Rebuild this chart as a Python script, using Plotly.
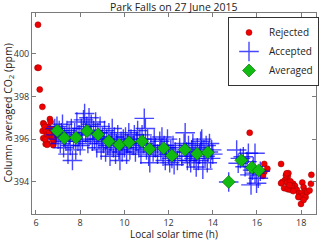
import plotly.graph_objects as go

# Rejected soundings (local solar time h, XCO2 ppm)
rej_t = [6.09, 6.07, 6.12, 6.17, 6.29, 6.63,
         6.33, 6.56, 6.30, 6.45, 6.66, 6.78, 6.63, 6.48, 6.33, 6.53, 6.44, 6.78, 6.81,
         6.36, 6.39, 6.66, 6.42, 6.75, 6.51, 6.84, 6.60,
         15.67, 16.33, 16.47, 16.33, 16.27, 17.09,
         17.42, 17.39, 17.27, 17.15, 17.09, 17.36, 17.23, 17.39, 17.51, 17.64, 17.72,
         17.57, 17.80, 17.64, 17.90, 18.05, 18.11, 18.17, 18.02, 17.96, 18.08, 18.20,
         17.87, 17.99, 18.11, 18.44, 18.46, 18.27, 17.31, 17.51, 17.34, 17.47, 18.38]
rej_v = [401.35, 399.34, 399.34, 398.32, 397.51, 396.94,
         396.74, 396.58, 396.38, 396.38, 396.32, 396.47, 396.14, 396.19, 396.04, 395.80, 395.77, 395.72, 395.93,
         396.70, 396.58, 396.81, 395.99, 395.99, 395.74, 396.11, 396.30,
         396.30, 394.84, 394.62, 394.47, 394.28, 394.84,
         394.41, 394.25, 394.09, 394.00, 393.94, 393.97, 393.71, 393.66, 393.63, 393.91, 393.81,
         393.81, 393.63, 393.57, 393.47, 393.97, 393.75, 393.57, 393.47, 393.29, 393.35, 393.29,
         393.29, 392.97, 393.16, 393.91, 394.33, 393.53, 394.31, 394.03, 394.40, 393.85, 393.60]

# Accepted soundings
acc_t = [6.85, 6.90, 6.95, 7.00, 7.05, 7.10, 7.15, 7.20, 7.25, 7.30, 7.35, 7.40, 7.45, 7.50,
         7.55, 7.60, 7.65, 7.70, 7.75, 7.80, 7.85, 7.90, 7.95, 8.00, 8.05, 8.10, 8.15, 8.20,
         8.25, 8.30, 8.35, 8.40, 8.45, 8.50, 8.55, 8.60, 8.65, 8.70, 8.75, 8.80, 8.85, 8.90,
         8.95, 9.00, 9.05, 9.10, 9.15, 9.20, 9.25, 9.30, 9.35, 9.40, 9.45, 9.50, 9.55, 9.60,
         9.65, 9.70, 9.75, 9.80, 9.85, 9.90, 9.95,
         10.00, 10.05, 10.10, 10.15, 10.20, 10.25, 10.30, 10.40, 10.45, 10.50, 10.55, 10.60,
         10.65, 10.70, 10.75, 10.80, 10.85, 10.90, 10.95, 11.00, 11.05, 11.10, 11.15, 11.20,
         11.30, 11.35, 11.40, 11.50, 11.60, 11.65, 11.70, 11.75, 11.80, 11.85, 11.90, 11.95,
         12.00, 12.05, 12.10, 12.15, 12.20, 12.25, 12.30, 12.40, 12.50, 12.60, 12.70, 12.75,
         12.80, 12.85, 12.90, 12.95, 13.00, 13.05, 13.10, 13.15, 13.20, 13.25, 13.30, 13.35,
         13.40, 13.45, 13.50, 13.55, 13.60, 13.65, 13.70, 13.75, 13.80, 13.85, 13.90, 13.95, 14.00,
         14.72,
         15.08, 15.61, 15.91, 15.15, 15.46, 15.68, 15.91, 16.06, 15.73, 15.98, 15.83, 15.38,
         15.25, 15.55, 16.15, 15.80]
acc_v = [396.5, 396.2, 396.6, 396.0, 396.4, 395.8, 396.3, 396.7, 395.6, 396.1, 395.9, 396.4, 395.3, 396.2,
         395.7, 396.5, 395.0, 396.0, 396.3, 395.5, 396.8, 395.9, 396.2, 395.7, 396.5, 396.0, 396.9, 397.2,
         396.3, 396.6, 395.8, 397.0, 396.2, 396.7, 395.9, 396.4, 396.0, 396.8, 395.6, 396.3, 396.0, 396.6,
         395.5, 396.1, 395.8, 396.4, 395.4, 396.0, 395.7, 396.3, 395.2, 395.9, 396.5, 395.6, 396.1, 395.3,
         395.8, 396.2, 395.5, 395.0, 395.9, 395.4, 396.0,
         395.6, 396.1, 395.3, 395.8, 396.3, 395.5, 396.0, 395.7, 396.2, 395.4, 395.9, 396.4,
         395.6, 396.0, 395.3, 396.2, 395.8, 396.97, 396.5, 395.5, 396.0, 395.2, 394.9, 395.7,
         395.4, 396.0, 395.6, 395.3, 395.9, 395.5, 396.1, 395.2, 395.7, 395.0, 395.6, 396.0,
         395.3, 394.9, 395.5, 395.1, 395.7, 394.8, 395.4, 395.0, 395.6, 395.2, 395.8, 396.3,
         395.4, 395.0, 395.7, 395.2, 394.9, 395.5, 395.8, 395.1, 395.4, 394.7, 395.6, 395.0,
         395.3, 395.9, 396.0, 394.6, 395.5, 395.2, 395.7, 394.9, 395.4, 395.8, 395.1, 395.5, 395.3,
         394.0,
         395.49, 395.34, 395.34, 394.87, 394.71, 394.33, 394.41, 394.17, 393.86, 393.94, 394.71, 395.18,
         395.10, 394.95, 394.50, 394.55]

# Averaged values
avg_t = [6.96, 7.28, 7.81, 8.31, 8.81, 9.29, 9.77, 10.21, 10.80, 11.14, 11.78, 12.15,
         12.74, 13.29, 13.77, 14.72, 15.29, 15.77, 16.08]
avg_v = [396.39, 396.05, 396.07, 396.38, 396.22, 395.90, 395.74, 395.85, 395.90, 395.54,
         395.58, 395.23, 395.51, 395.32, 395.38, 394.00, 395.01, 394.67, 394.54]

x_ticks = [6, 8, 10, 12, 14, 16, 18]
y_ticks = [394, 396, 398, 400]

FONT = "Open Sans"
W, H = 320, 240
L, R, T, B = 32, 4, 13, 26

fig = go.Figure()
fig.add_trace(go.Scatter(x=rej_t, y=rej_v, mode="markers", name="Rejected",
                         marker=dict(symbol="circle", size=6, color="#f00000",
                                     line=dict(width=0.5, color="#990000"))))
fig.add_trace(go.Scatter(x=acc_t, y=acc_v, mode="markers", name="Accepted",
                         marker=dict(symbol="cross-thin", size=14,
                                     line=dict(width=1.4, color="rgba(0,0,255,0.72)"))))
fig.add_trace(go.Scatter(x=avg_t, y=avg_v, mode="markers", name="Averaged",
                         marker=dict(symbol="diamond", size=10, color="#11bb11",
                                     line=dict(width=0.6, color="#006600"))))

axis_common = dict(showgrid=False, zeroline=False, showline=True, linecolor="#7a7a7a",
                   linewidth=1, mirror="ticks", ticks="inside", ticklen=4, automargin=False,
                   tickcolor="#7a7a7a", tickfont=dict(size=9, color="#333333", family=FONT))
fig.update_xaxes(range=[5.82, 18.67], tickvals=x_ticks, **axis_common)
fig.update_yaxes(range=[392.5, 401.9], tickvals=y_ticks, **axis_common)

tfont = dict(size=10.5, color="#222222", family=FONT)
xfont = dict(size=10, color="#222222", family=FONT)
fig.update_layout(
    width=W, height=H,
    margin=dict(l=L, r=R, t=T, b=B, autoexpand=False),
    paper_bgcolor="white", plot_bgcolor="white",
    legend=dict(x=(228 - L) / (W - L - R), y=1 - (17 - T) / (H - T - B),
                xanchor="left", yanchor="top",
                bordercolor="#333333", borderwidth=1, bgcolor="white",
                font=dict(size=10, color="#222222", family=FONT),
                itemsizing="trace", tracegroupgap=0, itemwidth=30),
    showlegend=True,
    annotations=[
        dict(text="Park Falls on 27 June 2015", xref="paper", yref="paper",
             x=0.5, y=1, yshift=6, xanchor="center", yanchor="middle", showarrow=False, font=tfont),
        dict(text="Local solar time (h)", xref="paper", yref="paper",
             x=0.5, y=0, yshift=-19.5, xanchor="center", yanchor="middle", showarrow=False, font=xfont),
        dict(text="Column averaged CO<sub>2</sub> (ppm)", xref="paper", yref="paper",
             x=0, y=0.5, xshift=-24, xanchor="center", yanchor="middle", textangle=-90,
             showarrow=False, font=tfont),
    ],
)
fig.write_html("out.html", config={"displayModeBar": False},
               post_script="document.body.style.margin='0';document.body.style.overflow='hidden';")
